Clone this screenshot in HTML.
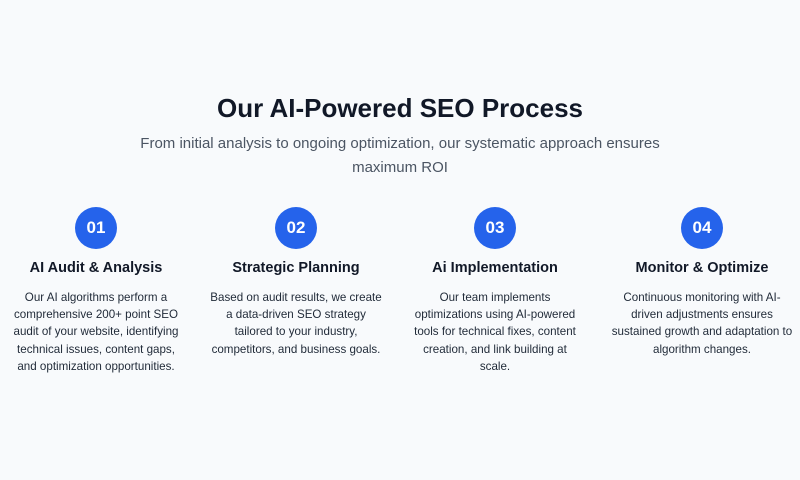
<!DOCTYPE html>
<html><head><style>
html,body{margin:0;padding:0;width:800px;height:480px;background:#f8fafc;font-family:"Liberation Sans",Arial,sans-serif;overflow:hidden;position:relative}
.h{position:absolute;left:0;width:800px;top:93px;text-align:center;font-size:26px;font-weight:bold;color:#111827}
.s{position:absolute;left:140px;width:520px;top:132px;text-align:center;font-size:15px;line-height:24px;color:#4b5563}
.c{position:absolute;width:42px;height:42px;border-radius:50%;background:#2563eb;color:#fff;font-weight:bold;font-size:17px;line-height:42px;text-align:center;top:207px}
.t{position:absolute;width:200px;top:260px;text-align:center;font-size:14.5px;font-weight:bold;color:#111827}
.p{position:absolute;width:180px;top:289px;text-align:center;font-size:11.6px;line-height:17.2px;color:#1f2937}
</style></head><body>
<div class="h">Our AI-Powered SEO Process</div>
<div class="s">From initial analysis to ongoing optimization, our systematic approach ensures maximum ROI</div>

<div class="c" style="left:75px">01</div>
<div class="t" style="left:-4px">AI Audit &amp; Analysis</div>
<div class="p" style="left:6px">Our AI algorithms perform a comprehensive 200+ point SEO audit of your website, identifying technical issues, content gaps, and optimization opportunities.</div>

<div class="c" style="left:275px">02</div>
<div class="t" style="left:196px">Strategic Planning</div>
<div class="p" style="left:206px">Based on audit results, we create a data-driven SEO strategy tailored to your industry, competitors, and business goals.</div>

<div class="c" style="left:474px">03</div>
<div class="t" style="left:395px">Ai Implementation</div>
<div class="p" style="left:410px;width:170px">Our team implements optimizations using AI-powered tools for technical fixes, content creation, and link building at scale.</div>

<div class="c" style="left:681px">04</div>
<div class="t" style="left:602px">Monitor &amp; Optimize</div>
<div class="p" style="left:610px;width:184px">Continuous monitoring with AI-driven adjustments ensures sustained growth and adaptation to algorithm changes.</div>
</body></html>
